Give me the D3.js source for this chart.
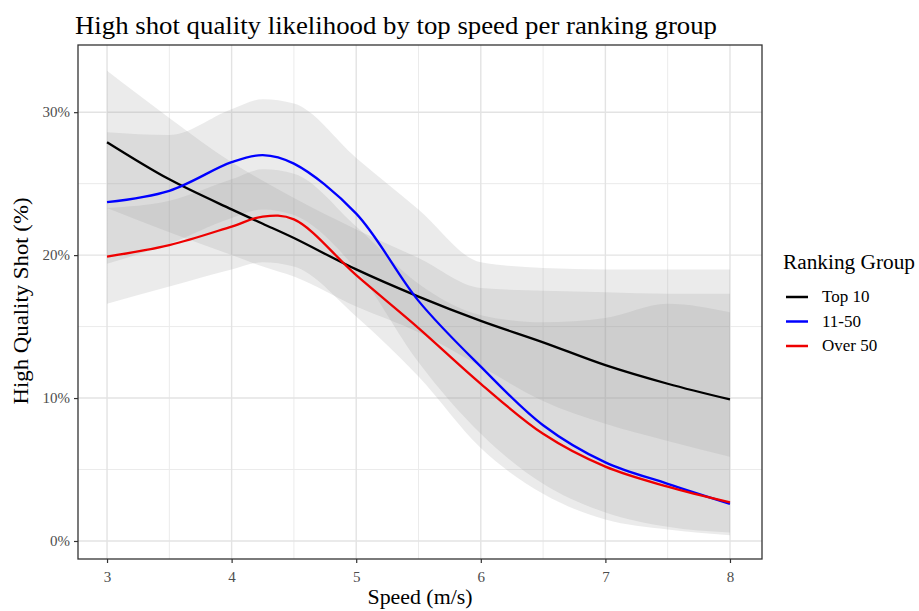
<!DOCTYPE html>
<html>
<head>
<meta charset="utf-8">
<script src="https://cdn.jsdelivr.net/npm/d3@7"></script>
<style>
  html, body { margin: 0; padding: 0; background: #fff; overflow: hidden; }
  svg { display: block; }
  text { font-family: "Liberation Serif", "DejaVu Serif", serif; }
</style>
</head>
<body>
<svg width="919" height="611"></svg>
<script>
const speeds = [3, 3.5, 4, 4.25, 4.5, 5, 5.5, 6, 6.5, 7, 7.5, 8]

const groups = ['Top 10', '11-50', 'Over 50']
const colors = ['#000000', '#0000ff', '#ee0000']

// fitted probability (%) per group at each speed
const top10 = [27.9, 25.3, 23.2, 22.2, 21.2, 19.0, 17.1, 15.4, 13.9, 12.3, 11.0, 9.9]
const mid50 = [23.7, 24.5, 26.5, 27.0, 26.4, 22.9, 16.8, 12.2, 8.1, 5.5, 4.0, 2.6]
const over50 = [19.9, 20.7, 22.0, 22.7, 22.5, 18.6, 14.9, 11.0, 7.5, 5.2, 3.8, 2.7]

// confidence band lower / upper (%)
const top10Lo = [23.3, 21.6, 20.0, 19.2, 18.5, 16.4, 14.6, 12.2, 9.8, 8.2, 7.0, 5.9]
const top10Hi = [32.9, 29.6, 26.5, 25.2, 24.0, 21.8, 19.8, 17.7, 17.5, 17.4, 17.3, 17.3]
const mid50Lo = [19.4, 20.8, 22.6, 23.2, 22.8, 19.0, 12.5, 7.5, 4.0, 2.0, 1.0, 0.6]
const mid50Hi = [28.6, 28.4, 30.2, 30.9, 30.6, 26.8, 23.2, 19.5, 19.1, 19.0, 19.0, 19.0]
const over50Lo = [16.6, 17.8, 19.0, 19.5, 19.2, 15.7, 11.5, 6.5, 3.3, 1.5, 0.8, 0.4]
const over50Hi = [23.3, 23.8, 25.3, 26.0, 25.7, 22.0, 18.0, 15.8, 15.3, 15.6, 16.6, 16.0]

const fits = [top10, mid50, over50]
const bands = [[top10Lo, top10Hi], [mid50Lo, mid50Hi], [over50Lo, over50Hi]]

const xTicks = [3, 4, 5, 6, 7, 8]
const xMinor = [3.5, 4.5, 5.5, 6.5, 7.5]
const yTicks = [0, 10, 20, 30]
const yMinor = [5, 15, 25]

const svg = d3.select('svg')
const margin = { top: 45, left: 78, right: 157, bottom: 52 }
const width = +svg.attr('width')
const height = +svg.attr('height')
const innerWidth = width - margin.left - margin.right
const innerHeight = height - margin.top - margin.bottom

const xScale = d3.scaleLinear()
  .domain([2.767, 8.257])
  .range([0, innerWidth])

const yScale = d3.scaleLinear()
  .domain([-1.26, 34.7])
  .range([innerHeight, 0])

const g = svg.append('g')
  .attr('transform', `translate(${margin.left},${margin.top})`)

// grid
g.selectAll('.minor-x').data(xMinor).enter().append('line')
  .attr('x1', d => xScale(d)).attr('x2', d => xScale(d))
  .attr('y1', 0).attr('y2', innerHeight)
  .attr('stroke', '#ebebeb').attr('stroke-width', 1)
g.selectAll('.minor-y').data(yMinor).enter().append('line')
  .attr('y1', d => yScale(d)).attr('y2', d => yScale(d))
  .attr('x1', 0).attr('x2', innerWidth)
  .attr('stroke', '#ebebeb').attr('stroke-width', 1)
g.selectAll('.major-x').data(xTicks).enter().append('line')
  .attr('x1', d => xScale(d)).attr('x2', d => xScale(d))
  .attr('y1', 0).attr('y2', innerHeight)
  .attr('stroke', '#e3e3e3').attr('stroke-width', 1.4)
g.selectAll('.major-y').data(yTicks).enter().append('line')
  .attr('y1', d => yScale(d)).attr('y2', d => yScale(d))
  .attr('x1', 0).attr('x2', innerWidth)
  .attr('stroke', '#e3e3e3').attr('stroke-width', 1.4)

// ribbons
const area = d3.area()
  .x((d, i) => xScale(speeds[i]))
  .y0(d => yScale(d[0]))
  .y1(d => yScale(d[1]))
  .curve(d3.curveMonotoneX)

bands.forEach(([lo, hi]) => {
  g.append('path')
    .attr('d', area(lo.map((v, i) => [v, hi[i]])))
    .attr('fill', '#999999')
    .attr('fill-opacity', 0.2)
})

// fitted lines
const line = d3.line()
  .x((d, i) => xScale(speeds[i]))
  .y(d => yScale(d))
  .curve(d3.curveCatmullRom.alpha(0.5))

fits.forEach((f, k) => {
  g.append('path')
    .attr('d', line(f))
    .attr('fill', 'none')
    .attr('stroke', colors[k])
    .attr('stroke-width', 2.3)
})

// axes
const xAxis = d3.axisBottom(xScale)
  .tickValues(xTicks)
  .tickFormat(d3.format('d'))
  .tickSize(4)
  .tickPadding(8)
const xAxisG = g.append('g')
  .attr('transform', `translate(0,${innerHeight})`)
  .call(xAxis)
xAxisG.select('.domain').remove()

const yAxis = d3.axisLeft(yScale)
  .tickValues(yTicks)
  .tickFormat(d => d + '%')
  .tickSize(4)
  .tickPadding(4)
const yAxisG = g.append('g').call(yAxis)
yAxisG.select('.domain').remove()

xAxisG.attr('font-family', '"Liberation Serif", serif').attr('font-size', 15)
yAxisG.attr('font-family', '"Liberation Serif", serif').attr('font-size', 15)
g.selectAll('.tick line').attr('stroke', '#333333').attr('stroke-width', 1.2)
g.selectAll('.tick text').attr('fill', '#4d4d4d')

g.append('rect')
  .attr('width', innerWidth)
  .attr('height', innerHeight)
  .attr('fill', 'none')
  .attr('stroke', '#333333')
  .attr('stroke-width', 1.3)

// titles
svg.append('text')
  .attr('x', 75)
  .attr('y', 34)
  .attr('textLength', 642)
  .attr('lengthAdjust', 'spacingAndGlyphs')
  .style('font-size', '26px')
  .text('High shot quality likelihood by top speed per ranking group')

svg.append('text')
  .attr('x', margin.left + innerWidth / 2)
  .attr('y', 604)
  .attr('text-anchor', 'middle')
  .attr('textLength', 105)
  .attr('lengthAdjust', 'spacingAndGlyphs')
  .style('font-size', '20px')
  .text('Speed (m/s)')

svg.append('text')
  .attr('transform', `translate(28,${margin.top + innerHeight / 2 - 1}) rotate(-90)`)
  .attr('text-anchor', 'middle')
  .attr('textLength', 207)
  .attr('lengthAdjust', 'spacingAndGlyphs')
  .style('font-size', '20px')
  .text('High Quality Shot (%)')

// legend
const legend = svg.append('g')
  .attr('transform', 'translate(783,0)')

legend.append('text')
  .attr('x', 0)
  .attr('y', 269)
  .attr('textLength', 132)
  .attr('lengthAdjust', 'spacingAndGlyphs')
  .style('font-size', '20px')
  .text('Ranking Group')

groups.forEach((name, k) => {
  const y = 297 + k * 24.5
  legend.append('line')
    .attr('x1', 3).attr('x2', 25)
    .attr('y1', y).attr('y2', y)
    .attr('stroke', colors[k])
    .attr('stroke-width', 2.5)
  legend.append('text')
    .attr('x', 39)
    .attr('y', y + 5)
    .style('font-size', '17px')
    .text(name)
})
</script>
</body>
</html>
